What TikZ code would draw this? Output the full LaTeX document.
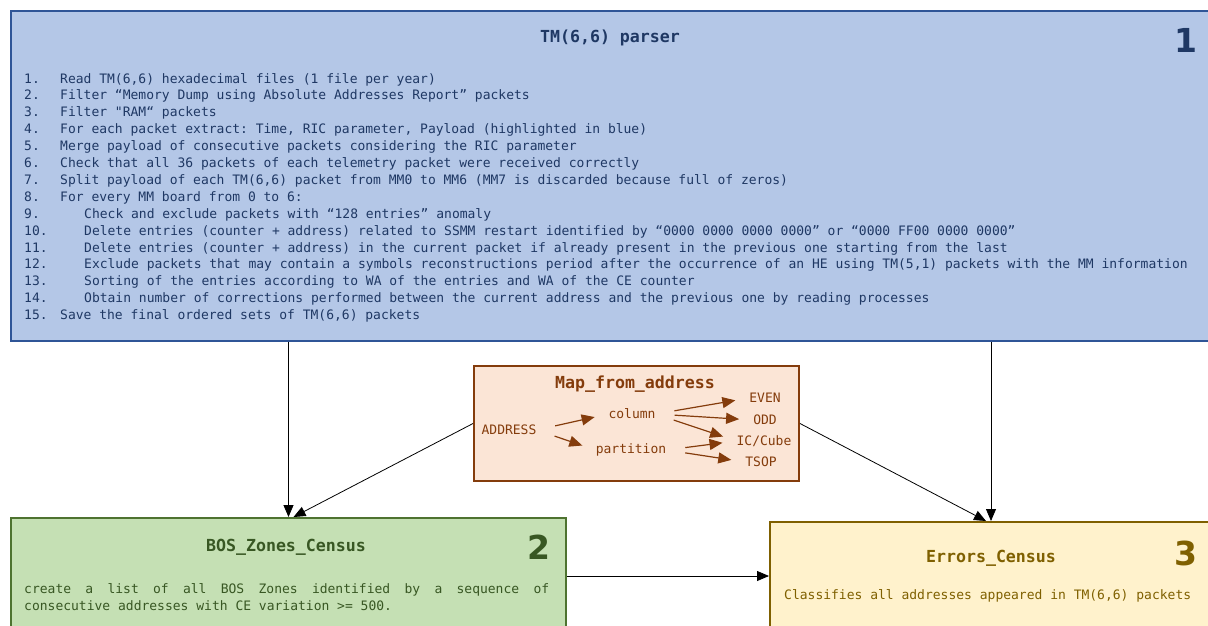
\documentclass[tikz,border=0pt]{standalone}
\usepackage{fontspec}
\setmonofont{DejaVu Sans Mono}
\newfontfamily\numfont{DejaVu Sans}
\usetikzlibrary{arrows.meta}

\definecolor{parserfill}{HTML}{B4C7E7}
\definecolor{parserline}{HTML}{2F5597}
\definecolor{parsertext}{HTML}{1F3864}
\definecolor{mapfill}{HTML}{FBE5D6}
\definecolor{mapline}{HTML}{843C0C}
\definecolor{bosfill}{HTML}{C5E0B4}
\definecolor{bosline}{HTML}{4E7330}
\definecolor{bostext}{HTML}{385723}
\definecolor{errfill}{HTML}{FFF2CC}
\definecolor{errline}{HTML}{7F6000}

\tikzset{
	stage/.style={draw, line width=2pt, anchor=north west, inner sep=0pt},
	stagetitle/.style={font=\ttfamily\bfseries\fontsize{16.6}{20}\selectfont},
	stagenum/.style={font=\numfont\bfseries\fontsize{33}{36}\selectfont},
	body/.style={font=\ttfamily\fontsize{13}{16.9}\selectfont, inner sep=0pt},
	mapitem/.style={body, text=mapline},
	flow/.style={-{Triangle[length=12pt,width=10pt]}, line width=0.8pt},
	mapflow/.style={-{Triangle[length=13pt,width=11pt]}, draw=mapline, line width=1.2pt, shorten <=19pt, shorten >=14pt}
}

\begin{document}
\begin{tikzpicture}[x=1pt,y=-1pt]
	\clip (0,0) rectangle (1208,625);
	
	% the four boxes
	\node[stage, draw=parserline, fill=parserfill, minimum width=1210pt, minimum height=330pt] (parser) at (10,10) {};
	\node[stage, draw=mapline, fill=mapfill, minimum width=325pt, minimum height=115pt] (map) at (473,365) {};
	\node[stage, draw=bosline, fill=bosfill, minimum width=555pt, minimum height=116pt] (bos) at (10,517) {};
	\node[stage, draw=errline, fill=errfill, minimum width=442pt, minimum height=120pt] (err) at (769,521) {};
	
	% TM(6,6) parser
	\node[stagetitle, text=parsertext] (parsertitle) at (610,38) {TM(6,6) parser};
	\node[stagenum, text=parsertext] (parsernum) at (1186,40) {1};
	\node[body, text=parsertext, anchor=north west] (steps) at (24,71) {%
		\begin{tabular}{@{}p{36pt}@{}l@{}}
		1.  & Read TM(6,6) hexadecimal files (1 file per year)\\
		2.  & Filter “Memory Dump using Absolute Addresses Report” packets\\
		3.  & Filter "RAM“ packets\\
		4.  & For each packet extract: Time, RIC parameter, Payload (highlighted in blue)\\
		5.  & Merge payload of consecutive packets considering the RIC parameter\\
		6.  & Check that all 36 packets of each telemetry packet were received correctly\\
		7.  & Split payload of each TM(6,6) packet from MM0 to MM6 (MM7 is discarded because full of zeros)\\
		8.  & For every MM board from 0 to 6:\\
		9.  & \hspace*{24pt}Check and exclude packets with “128 entries” anomaly\\
		10. & \hspace*{24pt}Delete entries (counter + address) related to SSMM restart identified by “0000 0000 0000 0000” or “0000 FF00 0000 0000”\\
		11. & \hspace*{24pt}Delete entries (counter + address) in the current packet if already present in the previous one starting from the last\\
		12. & \hspace*{24pt}Exclude packets that may contain a symbols reconstructions period after the occurrence of an HE using TM(5,1) packets with the MM information\\
		13. & \hspace*{24pt}Sorting of the entries according to WA of the entries and WA of the CE counter\\
		14. & \hspace*{24pt}Obtain number of corrections performed between the current address and the previous one by reading processes\\
		15. & Save the final ordered sets of TM(6,6) packets
		\end{tabular}};
	
	% Map_from_address
	\node[stagetitle, text=mapline] (maptitle) at (635,384) {Map\_from\_address};
	\node[mapitem] (address) at (509,430) {ADDRESS};
	\node[mapitem] (column) at (632,414) {column};
	\node[mapitem] (partition) at (631,450) {partition};
	\node[mapitem] (even) at (765,398) {EVEN};
	\node[mapitem] (odd) at (765,420) {ODD};
	\node[mapitem] (iccube) at (764,441) {IC/Cube};
	\node[mapitem] (tsop) at (761,462) {TSOP};
	\draw[mapflow] (address.east) -- (column.west);
	\draw[mapflow] (address.east) -- (partition.west);
	\draw[mapflow] (column.east) -- (even.west);
	\draw[mapflow] (column.east) -- (odd.west);
	\draw[mapflow] (column.east) -- (iccube.west);
	\draw[mapflow] (partition.east) -- (iccube.west);
	\draw[mapflow] (partition.east) -- (tsop.west);
	
	% BOS_Zones_Census
	\node[stagetitle, text=bostext] (bostitle) at (286,547) {BOS\_Zones\_Census};
	\node[stagenum, text=bostext] (bosnum) at (539,547) {2};
	\node[body, text=bostext, anchor=north west, text width=525pt, align=justify] (bosbody) at (24,583) {%
		\spaceskip=\fontdimen2\font plus 1em\relax
		create a list of all BOS Zones identified by a sequence of consecutive addresses with CE variation >= 500.};
	
	% Errors_Census
	\node[stagetitle, text=errline] (errtitle) at (991,558) {Errors\_Census};
	\node[stagenum, text=errline] (errnum) at (1186,553) {3};
	\node[body, text=errline, anchor=base west] (errbody) at (784,599) {Classifies all addresses appeared in TM(6,6) packets};
	
	% connections
	\draw[flow] (parser.south -| bos.north) -- (bos.north);
	\draw[flow] (parser.south -| err.north) -- (err.north);
	\draw[flow] (map.west) -- ([xshift=5pt]bos.north);
	\draw[flow] (map.east) -- ([xshift=-5pt]err.north);
	\draw[flow] (bos.east) -- (bos.east -| err.west);
\end{tikzpicture}
\end{document}
